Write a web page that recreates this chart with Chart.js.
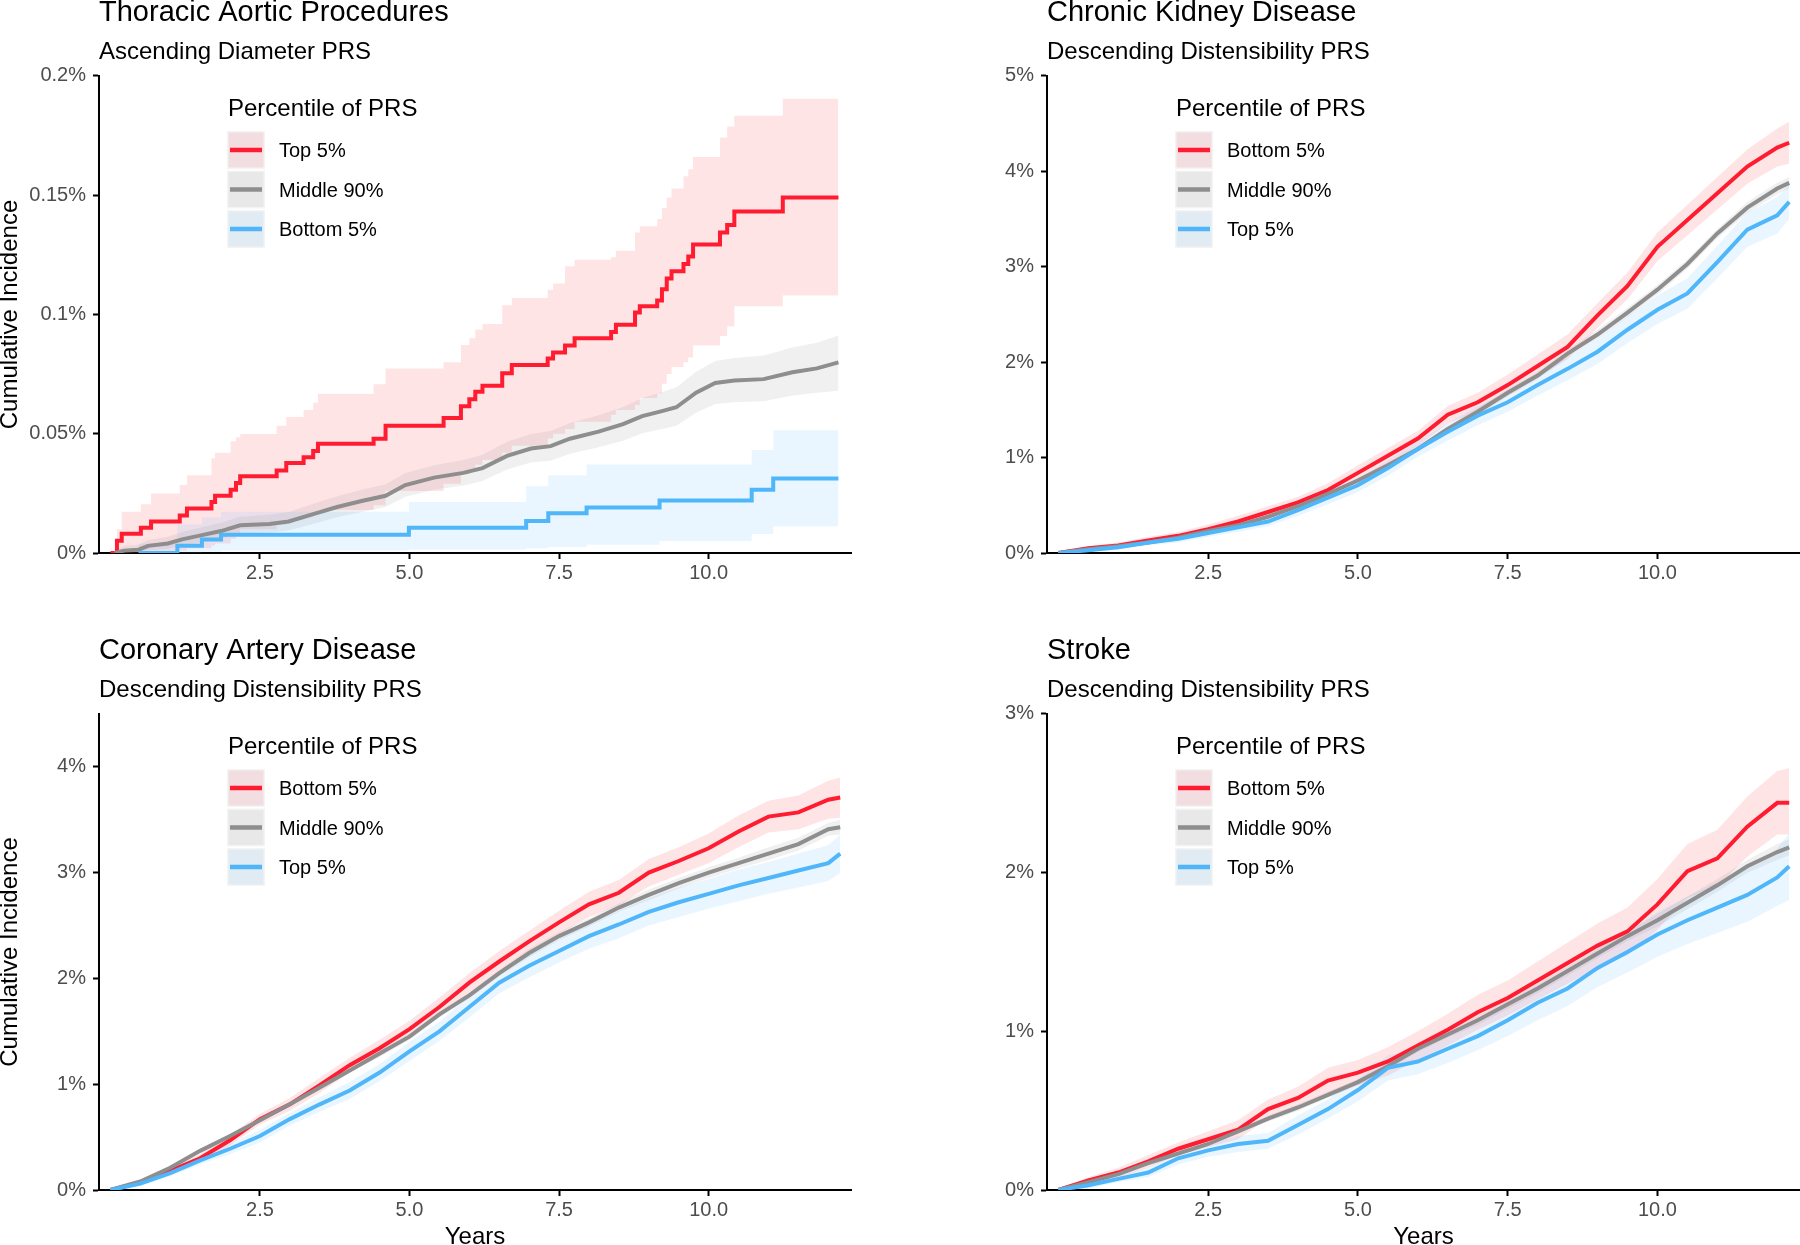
<!DOCTYPE html>
<html>
<head>
<meta charset="utf-8">
<script src="https://cdn.jsdelivr.net/npm/chart.js@4.4.1/dist/chart.umd.min.js"></script>
<style>
  body { margin: 0; background: #fff; }
  #page { position: relative; width: 1800px; height: 1245px; overflow: hidden; background: #fff; }
  canvas { position: absolute; }
</style>
</head>
<body>
<div id="page">
  <canvas id="cTap" width="900" height="622" style="left:0;top:0"></canvas>
  <canvas id="cCkd" width="900" height="622" style="left:900px;top:0"></canvas>
  <canvas id="cCad" width="900" height="623" style="left:0;top:622px"></canvas>
  <canvas id="cStroke" width="900" height="623" style="left:900px;top:622px"></canvas>
</div>
<script>
// x axis ticks (years)
const xTickVals = [2.5, 5, 7.5, 10]

// Thoracic Aortic Procedures - Kaplan-Meier steps (years, cumulative incidence %)
const tapRedYears = [0, 0.11, 0.19, 0.51, 0.68, 1.16, 1.28, 1.69, 1.75, 2.01, 2.10, 2.17, 2.78, 2.94, 3.23, 3.39, 3.47, 4.40, 4.60, 5.57, 5.86, 6.00, 6.10, 6.22, 6.55, 6.71, 7.31, 7.40, 7.60, 7.76, 8.37, 8.45, 8.77, 8.85, 9.14, 9.22, 9.30, 9.38, 9.58, 9.66, 9.74, 10.19, 10.31, 10.43, 11.24, 12.17]
const tapRed = [0, 0.0051, 0.0081, 0.0106, 0.0132, 0.0157, 0.0187, 0.0214, 0.0240, 0.0265, 0.0293, 0.0322, 0.0346, 0.0377, 0.0401, 0.0428, 0.0458, 0.0479, 0.0534, 0.0566, 0.0615, 0.0645, 0.0676, 0.0701, 0.0754, 0.0788, 0.0815, 0.0841, 0.0870, 0.0900, 0.0927, 0.0957, 0.1008, 0.1035, 0.1059, 0.1106, 0.1151, 0.1181, 0.1212, 0.1243, 0.1293, 0.1344, 0.1375, 0.1432, 0.1491, 0.1491]
const tapRedHi = [0, 0.010, 0.0173, 0.0204, 0.0249, 0.0285, 0.0326, 0.0397, 0.0420, 0.0469, 0.0485, 0.0499, 0.0534, 0.0570, 0.0600, 0.0630, 0.0668, 0.0707, 0.0774, 0.0800, 0.0872, 0.0900, 0.0937, 0.0960, 0.1039, 0.1069, 0.1104, 0.1130, 0.1202, 0.1230, 0.1240, 0.1267, 0.1344, 0.1370, 0.1400, 0.1446, 0.1490, 0.1528, 0.1580, 0.1609, 0.1660, 0.1742, 0.1788, 0.1833, 0.1905, 0.1905]
const tapRedLo = [0, 0, 0, 0, 0, 0.001, 0.002, 0.003, 0.004, 0.006, 0.008, 0.010, 0.012, 0.014, 0.015, 0.017, 0.018, 0.020, 0.026, 0.029, 0.033, 0.035, 0.037, 0.039, 0.042, 0.045, 0.048, 0.050, 0.052, 0.055, 0.058, 0.060, 0.062, 0.065, 0.067, 0.071, 0.075, 0.078, 0.080, 0.082, 0.087, 0.091, 0.095, 0.1035, 0.108, 0.108]

const tapGrayYears = [0.07, 0.23, 0.47, 0.63, 0.96, 1.20, 1.53, 1.85, 2.17, 2.66, 2.98, 3.39, 3.79, 4.20, 4.60, 4.93, 5.41, 5.90, 6.22, 6.63, 7.03, 7.36, 7.68, 8.16, 8.57, 8.89, 9.22, 9.46, 9.79, 10.11, 10.43, 10.92, 11.40, 11.81, 12.17]
const tapGray = [0, 0.0010, 0.0014, 0.0030, 0.0040, 0.0057, 0.0075, 0.0092, 0.0116, 0.0122, 0.0132, 0.0163, 0.0193, 0.0218, 0.0240, 0.0285, 0.0316, 0.0336, 0.0356, 0.0407, 0.0438, 0.0448, 0.0479, 0.0509, 0.0540, 0.0574, 0.0595, 0.0611, 0.0672, 0.0713, 0.0723, 0.0729, 0.0758, 0.0774, 0.0799]
const tapGrayHi = [0.001, 0.003, 0.0035, 0.0055, 0.0068, 0.0088, 0.0108, 0.0127, 0.0152, 0.0160, 0.0172, 0.0206, 0.0238, 0.0265, 0.0288, 0.0335, 0.0368, 0.0390, 0.0412, 0.0466, 0.0499, 0.0511, 0.0545, 0.0578, 0.0612, 0.0650, 0.0675, 0.0694, 0.0760, 0.0805, 0.0818, 0.0828, 0.0862, 0.0882, 0.0912]
const tapGrayLo = [0, 0, 0.0002, 0.0012, 0.0018, 0.0030, 0.0045, 0.0060, 0.0082, 0.0086, 0.0094, 0.0122, 0.0150, 0.0172, 0.0193, 0.0236, 0.0265, 0.0283, 0.0302, 0.0350, 0.0379, 0.0387, 0.0416, 0.0443, 0.0471, 0.0502, 0.0520, 0.0534, 0.0588, 0.0625, 0.0632, 0.0636, 0.0660, 0.0672, 0.0680]

const tapBlueYears = [0.47, 1.12, 1.53, 1.85, 4.99, 6.95, 7.32, 7.96, 9.18, 10.72, 11.08, 12.17]
const tapBlue = [0, 0.0030, 0.0057, 0.0077, 0.0106, 0.0134, 0.0167, 0.0191, 0.0220, 0.0265, 0.0312, 0.0312]
const tapBlueHi = [0.004, 0.012, 0.015, 0.0173, 0.0214, 0.0280, 0.0326, 0.0371, 0.0371, 0.0432, 0.0515, 0.0515]
const tapBlueLo = [0, 0, 0.0005, 0.0010, 0.0015, 0.0020, 0.0025, 0.0035, 0.0050, 0.0080, 0.0112, 0.0112]

// other three panels: read every half year
const years = [0, 0.5, 1, 1.5, 2, 2.5, 3, 3.5, 4, 4.5, 5, 5.5, 6, 6.5, 7, 7.5, 8, 8.5, 9, 9.5, 10, 10.5, 11, 11.5, 12, 12.2]

// Chronic Kidney Disease
const ckdRed = [0, 0.05, 0.08, 0.13, 0.18, 0.25, 0.33, 0.43, 0.53, 0.66, 0.84, 1.02, 1.20, 1.45, 1.58, 1.76, 1.96, 2.16, 2.49, 2.80, 3.21, 3.49, 3.77, 4.05, 4.25, 4.30]
const ckdRedHi = [0, 0.07, 0.11, 0.17, 0.22, 0.30, 0.39, 0.49, 0.59, 0.73, 0.92, 1.10, 1.28, 1.54, 1.68, 1.87, 2.08, 2.29, 2.62, 2.94, 3.36, 3.65, 3.94, 4.23, 4.45, 4.52]
const ckdRedLo = [0, 0.03, 0.05, 0.09, 0.14, 0.20, 0.27, 0.37, 0.47, 0.59, 0.76, 0.94, 1.12, 1.36, 1.48, 1.65, 1.84, 2.03, 2.36, 2.66, 3.06, 3.33, 3.60, 3.87, 4.05, 4.08]
const ckdGray = [0, 0.04, 0.07, 0.11, 0.16, 0.23, 0.29, 0.38, 0.49, 0.62, 0.76, 0.92, 1.09, 1.30, 1.48, 1.68, 1.86, 2.09, 2.29, 2.52, 2.76, 3.03, 3.35, 3.62, 3.82, 3.88]
const ckdGrayHi = [0, 0.05, 0.08, 0.12, 0.17, 0.24, 0.31, 0.40, 0.51, 0.64, 0.79, 0.95, 1.12, 1.33, 1.52, 1.72, 1.90, 2.13, 2.34, 2.57, 2.81, 3.08, 3.40, 3.68, 3.88, 3.94]
const ckdGrayLo = [0, 0.03, 0.06, 0.10, 0.15, 0.22, 0.27, 0.36, 0.47, 0.60, 0.73, 0.89, 1.06, 1.27, 1.44, 1.64, 1.82, 2.05, 2.24, 2.47, 2.71, 2.98, 3.30, 3.56, 3.76, 3.82]
const ckdBlue = [0, 0.03, 0.06, 0.11, 0.15, 0.21, 0.27, 0.33, 0.45, 0.58, 0.71, 0.89, 1.09, 1.27, 1.44, 1.58, 1.76, 1.93, 2.11, 2.34, 2.55, 2.72, 3.05, 3.39, 3.54, 3.68]
const ckdBlueHi = [0, 0.05, 0.08, 0.14, 0.19, 0.25, 0.32, 0.38, 0.51, 0.65, 0.78, 0.97, 1.17, 1.36, 1.54, 1.68, 1.87, 2.05, 2.24, 2.48, 2.70, 2.88, 3.22, 3.57, 3.73, 3.86]
const ckdBlueLo = [0, 0.01, 0.04, 0.08, 0.11, 0.17, 0.22, 0.28, 0.39, 0.51, 0.64, 0.81, 1.01, 1.18, 1.34, 1.48, 1.65, 1.81, 1.98, 2.20, 2.40, 2.56, 2.88, 3.21, 3.35, 3.50]

// Coronary Artery Disease
const cadRed = [0, 0.07, 0.18, 0.30, 0.47, 0.67, 0.81, 0.99, 1.18, 1.34, 1.52, 1.73, 1.96, 2.16, 2.35, 2.53, 2.70, 2.81, 3.00, 3.11, 3.23, 3.39, 3.53, 3.57, 3.69, 3.71]
const cadRedHi = [0, 0.09, 0.21, 0.34, 0.52, 0.72, 0.87, 1.06, 1.25, 1.42, 1.60, 1.82, 2.05, 2.26, 2.45, 2.64, 2.82, 2.93, 3.13, 3.24, 3.37, 3.54, 3.68, 3.73, 3.87, 3.90]
const cadRedLo = [0, 0.05, 0.15, 0.26, 0.42, 0.62, 0.75, 0.92, 1.11, 1.26, 1.44, 1.64, 1.87, 2.06, 2.25, 2.42, 2.58, 2.69, 2.87, 2.98, 3.09, 3.24, 3.38, 3.41, 3.51, 3.52]
const cadGray = [0, 0.08, 0.21, 0.37, 0.51, 0.66, 0.81, 0.97, 1.13, 1.29, 1.45, 1.66, 1.84, 2.05, 2.24, 2.40, 2.53, 2.67, 2.79, 2.90, 3.00, 3.09, 3.18, 3.27, 3.41, 3.43]
const cadGrayHi = [0, 0.09, 0.22, 0.38, 0.53, 0.68, 0.83, 0.99, 1.15, 1.32, 1.48, 1.69, 1.87, 2.08, 2.28, 2.44, 2.57, 2.71, 2.84, 2.95, 3.05, 3.14, 3.24, 3.33, 3.47, 3.50]
const cadGrayLo = [0, 0.07, 0.20, 0.36, 0.49, 0.64, 0.79, 0.95, 1.11, 1.26, 1.42, 1.63, 1.81, 2.02, 2.20, 2.36, 2.49, 2.63, 2.74, 2.85, 2.95, 3.04, 3.12, 3.21, 3.35, 3.36]
const cadBlue = [0, 0.06, 0.16, 0.28, 0.39, 0.51, 0.67, 0.81, 0.94, 1.11, 1.31, 1.50, 1.73, 1.96, 2.12, 2.26, 2.40, 2.51, 2.63, 2.72, 2.80, 2.88, 2.95, 3.02, 3.09, 3.18]
const cadBlueHi = [0, 0.08, 0.19, 0.32, 0.44, 0.57, 0.73, 0.88, 1.02, 1.19, 1.40, 1.59, 1.83, 2.06, 2.23, 2.37, 2.52, 2.64, 2.76, 2.86, 2.94, 3.03, 3.10, 3.18, 3.26, 3.36]
const cadBlueLo = [0, 0.04, 0.13, 0.24, 0.34, 0.45, 0.61, 0.74, 0.86, 1.03, 1.22, 1.41, 1.63, 1.86, 2.01, 2.15, 2.28, 2.38, 2.50, 2.58, 2.66, 2.73, 2.80, 2.86, 2.92, 3.00]

// Stroke
const strokeRed = [0, 0.06, 0.11, 0.18, 0.26, 0.32, 0.38, 0.51, 0.58, 0.69, 0.74, 0.81, 0.91, 1.01, 1.12, 1.21, 1.32, 1.43, 1.54, 1.63, 1.80, 2.01, 2.09, 2.29, 2.44, 2.44]
const strokeRedHi = [0, 0.08, 0.14, 0.22, 0.30, 0.37, 0.44, 0.57, 0.65, 0.77, 0.82, 0.90, 1.00, 1.11, 1.23, 1.32, 1.44, 1.56, 1.68, 1.78, 1.96, 2.18, 2.27, 2.48, 2.64, 2.66]
const strokeRedLo = [0, 0.04, 0.08, 0.14, 0.22, 0.27, 0.32, 0.45, 0.51, 0.61, 0.66, 0.72, 0.82, 0.91, 1.01, 1.10, 1.20, 1.30, 1.40, 1.48, 1.64, 1.84, 1.91, 2.10, 2.24, 2.24]
const strokeGray = [0, 0.05, 0.10, 0.17, 0.23, 0.29, 0.37, 0.45, 0.52, 0.60, 0.68, 0.78, 0.89, 0.98, 1.07, 1.17, 1.27, 1.38, 1.49, 1.60, 1.70, 1.81, 1.92, 2.04, 2.13, 2.16]
const strokeGrayHi = [0, 0.06, 0.11, 0.18, 0.24, 0.30, 0.38, 0.47, 0.54, 0.62, 0.70, 0.80, 0.91, 1.00, 1.10, 1.20, 1.30, 1.41, 1.52, 1.63, 1.74, 1.85, 1.96, 2.08, 2.18, 2.21]
const strokeGrayLo = [0, 0.04, 0.09, 0.16, 0.22, 0.28, 0.36, 0.43, 0.50, 0.58, 0.66, 0.76, 0.87, 0.96, 1.04, 1.14, 1.24, 1.35, 1.46, 1.57, 1.66, 1.77, 1.88, 2.00, 2.08, 2.11]
const strokeBlue = [0, 0.03, 0.07, 0.11, 0.20, 0.25, 0.29, 0.31, 0.41, 0.51, 0.63, 0.77, 0.81, 0.89, 0.97, 1.07, 1.18, 1.27, 1.40, 1.50, 1.61, 1.70, 1.78, 1.86, 1.97, 2.04]
const strokeBlueHi = [0, 0.05, 0.09, 0.14, 0.24, 0.29, 0.34, 0.36, 0.47, 0.57, 0.70, 0.85, 0.89, 0.98, 1.06, 1.17, 1.29, 1.38, 1.52, 1.63, 1.75, 1.85, 1.94, 2.03, 2.15, 2.25]
const strokeBlueLo = [0, 0.01, 0.05, 0.08, 0.16, 0.21, 0.24, 0.26, 0.35, 0.45, 0.56, 0.69, 0.73, 0.80, 0.88, 0.97, 1.07, 1.16, 1.28, 1.37, 1.47, 1.55, 1.62, 1.69, 1.79, 1.83]

// y axis ticks (percent)
const tapYTicks = [0, 0.05, 0.1, 0.15, 0.2]
const ckdYTicks = [0, 1, 2, 3, 4, 5]
const cadYTicks = [0, 1, 2, 3, 4]
const strokeYTicks = [0, 1, 2, 3]

const FONT = '"Liberation Sans", Arial, Helvetica, sans-serif'
Chart.defaults.font.family = FONT
Chart.defaults.color = '#000'

const colors = {
    red:  { line: 'rgb(255, 28, 48)',  band: 'rgba(255, 30, 50, 0.12)',  key: 'rgb(242, 221, 225)' },
    gray: { line: 'rgb(142, 142, 142)', band: 'rgba(140, 140, 140, 0.13)', key: 'rgb(232, 232, 232)' },
    blue: { line: 'rgb(79, 182, 250)', band: 'rgba(77, 184, 255, 0.12)', key: 'rgb(225, 235, 243)' }
}

const xy = (xs, ys) => xs.map((x, i) => ({ x: x, y: ys[i] }))

// legend drawn inside the plot, like ggplot's legend.position
const prsLegend = {
    id: 'prsLegend',
    afterDraw(chart, args, opts) {
        const { ctx, chartArea } = chart
        const x0 = chartArea.left + 128
        const y0 = chartArea.top
        ctx.save()
        ctx.textAlign = 'left'
        ctx.textBaseline = 'middle'
        ctx.fillStyle = '#000'
        ctx.font = '24px ' + FONT
        ctx.fillText(opts.title, x0 + 1, y0 + 33)
        opts.items.forEach((it, i) => {
            const top = y0 + 55 + i * 39.5
            ctx.fillStyle = 'rgb(244, 244, 244)'
            ctx.fillRect(x0, top, 38, 38)
            ctx.fillStyle = it.key
            ctx.fillRect(x0 + 1.5, top + 1.5, 35, 35)
            ctx.strokeStyle = it.line
            ctx.lineWidth = 4.5
            ctx.beginPath()
            ctx.moveTo(x0 + 3, top + 19)
            ctx.lineTo(x0 + 35, top + 19)
            ctx.stroke()
            ctx.fillStyle = '#000'
            ctx.font = '20px ' + FONT
            ctx.fillText(it.label, x0 + 52, top + 21)
        })
        ctx.restore()
    }
}

function makePanel(p) {
    const lines = []
    const bands = []
    // ggplot draws red first, blue last -> in Chart.js index 0 is painted on top
    p.groups.slice().reverse().forEach(g => {
        const c = colors[g.color]
        lines.push({ label: g.label, data: xy(g.t, g.est), borderColor: c.line, borderWidth: 4, stepped: g.stepped, fill: false })
        bands.push({ data: xy(g.t, g.hi), borderWidth: 0, borderColor: 'rgba(0,0,0,0)', backgroundColor: c.band, fill: '+1', stepped: g.stepped })
        bands.push({ data: xy(g.t, g.lo), borderWidth: 0, borderColor: 'rgba(0,0,0,0)', fill: false, stepped: g.stepped })
    })

    const axisGrid = { display: true, drawOnChartArea: false, drawTicks: true, tickLength: 6, tickWidth: 2, tickColor: '#000' }
    const axisBorder = { display: true, color: '#000', width: 2 }

    new Chart(document.getElementById(p.id), {
        type: 'line',
        data: { datasets: lines.concat(bands) },
        plugins: [prsLegend],
        options: {
            responsive: false,
            animation: false,
            layout: { padding: { top: p.padTop, right: p.padRight, bottom: 0, left: 0 } },
            elements: {
                point: { radius: 0 },
                line: { tension: 0, borderJoinStyle: 'miter', borderCapStyle: 'butt' }
            },
            plugins: {
                legend: { display: false },
                tooltip: { enabled: false },
                title: {
                    display: true, text: p.title, align: 'start', fullSize: false, color: '#000',
                    font: { size: 29, weight: 'normal', lineHeight: 0.927 },
                    padding: { top: 0, bottom: 0 }
                },
                subtitle: {
                    display: true, text: p.subtitle, align: 'start', fullSize: false, color: '#000',
                    font: { size: 24, weight: 'normal', lineHeight: 1 },
                    padding: { top: 13.3, bottom: 11.8 }
                },
                prsLegend: {
                    title: 'Percentile of PRS',
                    items: p.groups.map(g => ({ label: g.label, line: colors[g.color].line, key: colors[g.color].key }))
                }
            },
            scales: {
                x: {
                    type: 'linear',
                    min: -0.19,
                    max: 12.38,
                    afterBuildTicks: s => { s.ticks = xTickVals.map(v => ({ value: v })) },
                    afterFit: s => { s.height = p.xHeight },
                    ticks: { font: { size: 20 }, color: '#4d4d4d', padding: 2, maxRotation: 0, callback: v => v.toFixed(1) },
                    grid: axisGrid,
                    border: axisBorder,
                    title: { display: p.xTitle, text: 'Years', color: '#000', font: { size: 24, lineHeight: 0.6 }, padding: 0 }
                },
                y: {
                    min: 0,
                    max: p.yMax,
                    afterBuildTicks: s => { s.ticks = p.yTicks.map(v => ({ value: v })) },
                    afterFit: s => { s.width = p.yWidth },
                    ticks: { font: { size: 20 }, color: '#4d4d4d', padding: 7, callback: v => v + '%' },
                    grid: axisGrid,
                    border: axisBorder,
                    title: { display: p.yTitle, text: 'Cumulative Incidence', color: '#000', font: { size: 24, lineHeight: 0.9 }, padding: 0 }
                }
            }
        }
    })
}

makePanel({
    id: 'cTap', title: 'Thoracic Aortic Procedures', subtitle: 'Ascending Diameter PRS',
    yMax: 0.2, yTicks: tapYTicks, yWidth: 99, padRight: 49, padTop: 0, xHeight: 69, yTitle: true, xTitle: false,
    groups: [
        { label: 'Top 5%', color: 'red', stepped: true, t: tapRedYears, est: tapRed, hi: tapRedHi, lo: tapRedLo },
        { label: 'Middle 90%', color: 'gray', stepped: false, t: tapGrayYears, est: tapGray, hi: tapGrayHi, lo: tapGrayLo },
        { label: 'Bottom 5%', color: 'blue', stepped: true, t: tapBlueYears, est: tapBlue, hi: tapBlueHi, lo: tapBlueLo }
    ]
})

makePanel({
    id: 'cCkd', title: 'Chronic Kidney Disease', subtitle: 'Descending Distensibility PRS',
    yMax: 5, yTicks: ckdYTicks, yWidth: 147, padRight: 0, padTop: 0, xHeight: 69, yTitle: false, xTitle: false,
    groups: [
        { label: 'Bottom 5%', color: 'red', stepped: false, t: years, est: ckdRed, hi: ckdRedHi, lo: ckdRedLo },
        { label: 'Middle 90%', color: 'gray', stepped: false, t: years, est: ckdGray, hi: ckdGrayHi, lo: ckdGrayLo },
        { label: 'Top 5%', color: 'blue', stepped: false, t: years, est: ckdBlue, hi: ckdBlueHi, lo: ckdBlueLo }
    ]
})

makePanel({
    id: 'cCad', title: 'Coronary Artery Disease', subtitle: 'Descending Distensibility PRS',
    yMax: 4.5, yTicks: cadYTicks, yWidth: 99, padRight: 49, padTop: 16, xHeight: 55, yTitle: true, xTitle: true,
    groups: [
        { label: 'Bottom 5%', color: 'red', stepped: false, t: years, est: cadRed, hi: cadRedHi, lo: cadRedLo },
        { label: 'Middle 90%', color: 'gray', stepped: false, t: years, est: cadGray, hi: cadGrayHi, lo: cadGrayLo },
        { label: 'Top 5%', color: 'blue', stepped: false, t: years, est: cadBlue, hi: cadBlueHi, lo: cadBlueLo }
    ]
})

makePanel({
    id: 'cStroke', title: 'Stroke', subtitle: 'Descending Distensibility PRS',
    yMax: 3, yTicks: strokeYTicks, yWidth: 147, padRight: 0, padTop: 16, xHeight: 55, yTitle: false, xTitle: true,
    groups: [
        { label: 'Bottom 5%', color: 'red', stepped: false, t: years, est: strokeRed, hi: strokeRedHi, lo: strokeRedLo },
        { label: 'Middle 90%', color: 'gray', stepped: false, t: years, est: strokeGray, hi: strokeGrayHi, lo: strokeGrayLo },
        { label: 'Top 5%', color: 'blue', stepped: false, t: years, est: strokeBlue, hi: strokeBlueHi, lo: strokeBlueLo }
    ]
})
</script>
</body>
</html>
